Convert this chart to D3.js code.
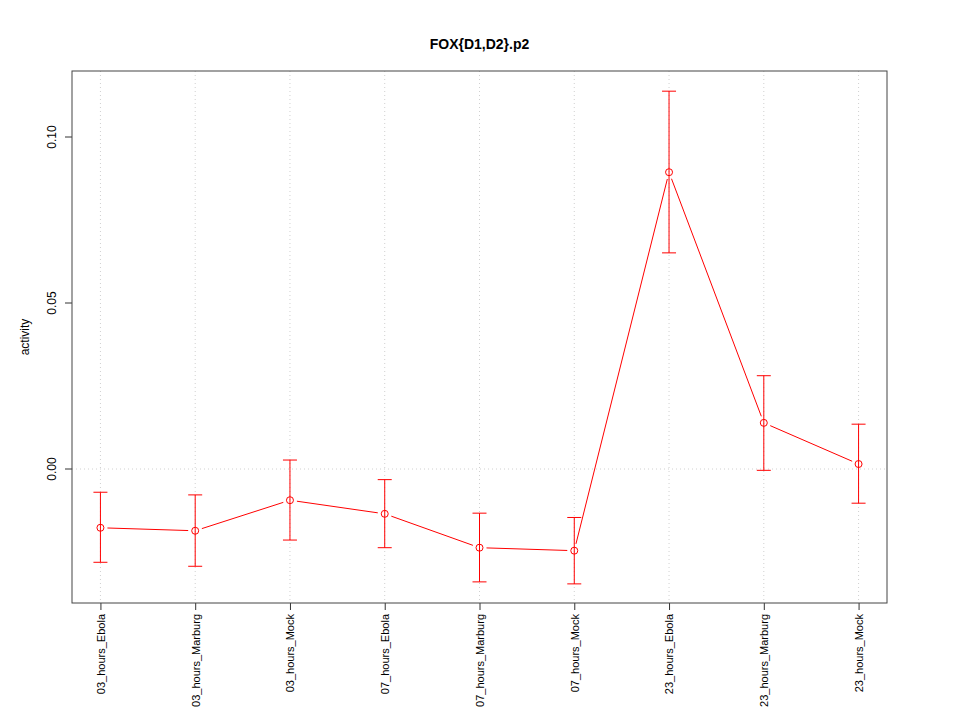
<!DOCTYPE html>
<html><head><meta charset="utf-8">
<script src="https://cdn.jsdelivr.net/npm/d3@7"></script>
<style>body{margin:0;background:#fff;} text{font-family:"Liberation Sans",Arial,sans-serif;}</style>
</head><body>
<svg id="chart" width="960" height="720"></svg>
<script>
const categories = ["03_hours_Ebola","03_hours_Marburg","03_hours_Mock","07_hours_Ebola","07_hours_Marburg","07_hours_Mock","23_hours_Ebola","23_hours_Marburg","23_hours_Mock"];
const values = [-0.0177, -0.0186, -0.0094, -0.0135, -0.0237, -0.0246, 0.0894, 0.0139, 0.0015];
const upper  = [-0.0070, -0.0078, 0.0027, -0.0032, -0.0133, -0.0146, 0.1138, 0.0281, 0.0135];
const lower  = [-0.0281, -0.0293, -0.0214, -0.0237, -0.0340, -0.0346, 0.0651, -0.0004, -0.0103];
const yTicks = [0.00, 0.05, 0.10];
const title = "FOX{D1,D2}.p2";
const yLabel = "activity";

const L = 72, R = 887, T = 71, B = 603;
const svg = d3.select("#chart");
const x = d3.scaleLinear().domain([0.7, categories.length + 0.3]).range([L, R]);
const y = d3.scaleLinear().domain([-0.04036, 0.11988]).range([B, T]);
const idx = categories.map((c, i) => i + 1);

// grid
svg.append("g").selectAll("line").data(idx).join("line")
  .attr("x1", d => x(d)).attr("x2", d => x(d)).attr("y1", T).attr("y2", B)
  .attr("stroke", "#d0d0d0").attr("stroke-dasharray", "1,3");
svg.append("line").attr("x1", L).attr("x2", R).attr("y1", y(0)).attr("y2", y(0))
  .attr("stroke", "#d0d0d0").attr("stroke-dasharray", "1,3");

// axes
const xAxis = svg.append("g").attr("transform", `translate(0,${B})`)
  .call(d3.axisBottom(x).tickValues(idx).tickSize(7).tickFormat(d => categories[d - 1]));
xAxis.select(".domain").remove();
xAxis.selectAll("line").attr("stroke", "#333");
xAxis.selectAll("text").attr("transform", "rotate(-90)").attr("text-anchor", "end")
  .attr("x", -11).attr("y", 0).attr("dy", "0.35em").style("font-size", "11px").attr("fill", "#000");

const yAxis = svg.append("g").attr("transform", `translate(${L},0)`)
  .call(d3.axisLeft(y).tickValues(yTicks).tickSize(7).tickFormat(d3.format(".2f")));
yAxis.select(".domain").remove();
yAxis.selectAll(".tick").attr("transform", null);
yAxis.selectAll(".tick line").attr("stroke", "#333")
  .attr("y1", d => y(d)).attr("y2", d => y(d)).attr("x2", -7);
yAxis.selectAll(".tick text").attr("transform", "rotate(-90)").attr("text-anchor", "middle")
  .attr("x", d => -y(d)).attr("y", -16.5).attr("dy", "0").style("font-size", "12px").attr("fill", "#000");

// box
svg.append("rect").attr("x", L).attr("y", T).attr("width", R - L).attr("height", B - T)
  .attr("fill", "none").attr("stroke", "#444").attr("stroke-width", 1);

// error bars
const eb = svg.append("g").attr("stroke", "#ff0000").attr("stroke-width", 1).attr("fill", "none");
idx.forEach((d, i) => {
  eb.append("line").attr("x1", x(d)).attr("x2", x(d)).attr("y1", y(upper[i])).attr("y2", y(lower[i]));
  eb.append("line").attr("x1", x(d) - 7).attr("x2", x(d) + 7).attr("y1", y(upper[i])).attr("y2", y(upper[i]));
  eb.append("line").attr("x1", x(d) - 7).attr("x2", x(d) + 7).attr("y1", y(lower[i])).attr("y2", y(lower[i]));
});

// line segments with gaps (type "b")
const gap = 7;
for (let i = 0; i < values.length - 1; i++) {
  const x1 = x(idx[i]), y1 = y(values[i]), x2 = x(idx[i + 1]), y2 = y(values[i + 1]);
  const len = Math.hypot(x2 - x1, y2 - y1);
  const ux = (x2 - x1) / len, uy = (y2 - y1) / len;
  eb.append("line").attr("x1", x1 + ux * gap).attr("y1", y1 + uy * gap)
    .attr("x2", x2 - ux * gap).attr("y2", y2 - uy * gap);
}
// points
eb.selectAll("circle").data(values).join("circle")
  .attr("cx", (d, i) => x(idx[i])).attr("cy", d => y(d)).attr("r", 3.5);

// title & labels
svg.append("text").attr("x", (L + R) / 2).attr("y", 49).attr("text-anchor", "middle")
  .style("font-size", "14px").style("font-weight", "bold").text(title);
svg.append("text").attr("transform", `translate(29,${(T + B) / 2}) rotate(-90)`)
  .attr("text-anchor", "middle").style("font-size", "12px").text(yLabel);
</script>
</body></html>
